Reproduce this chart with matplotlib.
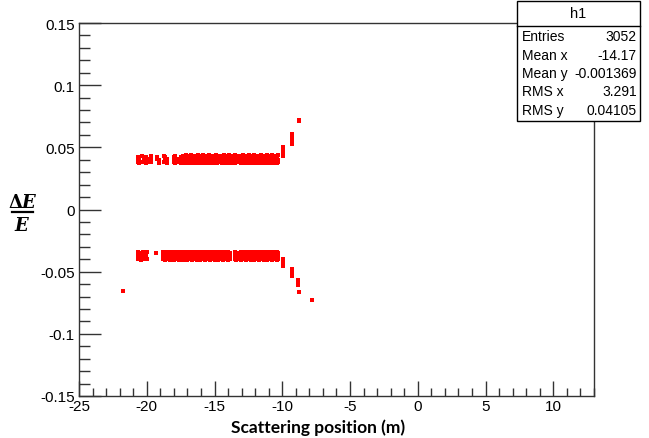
import matplotlib
matplotlib.use("Agg")
import matplotlib.pyplot as plt
from matplotlib.patches import Rectangle
from matplotlib.lines import Line2D
from matplotlib.ticker import MultipleLocator, FixedLocator

nan = float("nan")

# ---------------- data ----------------
# upper band (dE/E ~ +0.04): column positions and the dots seen in each column
upper_cols_x = [-20.66, -20.54, -20.36, -20.24, -20.06, -19.94, -19.76, -19.66, -19.24, -19.12,
                -18.76, -18.64, -18.52, -18.00, -17.88, -17.76, -17.64, -17.48,
                -17.32, -17.20, -17.08, -16.96, -16.84, -16.72, -16.60, -16.48, -16.36, -16.24,
                -16.12, -16.00, -15.88, -15.76, -15.64, -15.52, -15.40, -15.28, -15.16, -15.04,
                -14.92, -14.80, -14.68,
                -14.44, -14.32, -14.20, -14.08, -13.96, -13.84, -13.72, -13.60, -13.48,
                -13.16, -13.04, -12.92, -12.80, -12.68, -12.56, -12.44, -12.32, -12.20, -12.08,
                -11.96, -11.84, -11.72, -11.60, -11.48, -11.36, -11.24, -11.12, -11.00, -10.88,
                -10.76, -10.64, -10.52, -10.40, -10.28]
upper_y_top = [0.042, nan, 0.043, nan, 0.042, nan, 0.041, 0.043, 0.042, nan,
               0.043, 0.042, nan, 0.042, 0.043, nan, 0.041, 0.042,
               0.043, 0.042, 0.044, 0.043, 0.042, 0.044, 0.043, 0.042, 0.043, 0.044,
               0.042, 0.043, 0.044, 0.042, 0.043, 0.042, 0.044, 0.043, 0.042, 0.043,
               0.044, 0.042, 0.043,
               0.043, 0.044, 0.042, 0.043, 0.044, 0.042, 0.043, 0.042, 0.044,
               0.043, 0.042, 0.044, 0.043, 0.042, 0.043, 0.044, 0.042, 0.043, 0.044,
               0.042, 0.043, 0.042, 0.044, 0.043, 0.042, 0.043, 0.044, 0.042, 0.043,
               0.044, 0.042, 0.043, 0.042, 0.044]
upper_y_mid = [0.040, 0.041, nan, 0.040, 0.041, 0.040, nan, 0.040, 0.041, 0.040,
               nan, 0.040, 0.041, 0.040, nan, 0.041, 0.040, nan,
               0.040, 0.041, 0.0405, 0.040, 0.041, 0.0405, 0.040, 0.041, 0.040, 0.0405,
               0.041, 0.040, 0.0405, 0.041, 0.040, 0.041, 0.0405, 0.040, 0.041, 0.040,
               0.0405, 0.041, 0.040,
               0.041, 0.040, 0.0405, 0.041, 0.040, 0.041, 0.0405, 0.040, 0.041,
               0.040, 0.041, 0.0405, 0.040, 0.041, 0.040, 0.0405, 0.041, 0.040, 0.041,
               0.0405, 0.040, 0.041, 0.040, 0.0405, 0.041, 0.040, 0.041, 0.0405, 0.040,
               0.041, 0.040, 0.0405, 0.041, 0.040]
upper_y_low = [0.038, 0.037, 0.038, nan, 0.037, 0.038, nan, 0.038, nan, 0.037,
               0.038, nan, 0.037, 0.038, 0.037, nan, 0.038, 0.037,
               0.038, 0.037, 0.038, 0.0375, 0.037, 0.038, 0.0375, 0.038, 0.037, 0.038,
               0.0375, 0.037, 0.038, 0.037, 0.0375, 0.038, 0.037, 0.038, 0.0375, 0.037,
               0.038, 0.037, 0.038,
               0.037, 0.038, 0.0375, 0.037, 0.038, 0.037, 0.038, 0.0375, 0.037,
               0.038, 0.037, 0.0375, 0.038, 0.037, 0.038, 0.0375, 0.037, 0.038, 0.037,
               0.038, 0.0375, 0.037, 0.038, 0.037, 0.0375, 0.038, 0.037, 0.038, 0.0375,
               0.037, 0.038, 0.037, 0.0375, 0.038]
upper_tail_x = [-9.98, -9.95, -9.92, -9.96, -9.93, -9.30, -9.27, -9.29, -9.25, -8.76, -8.74]
upper_tail_y = [0.0460, 0.0440, 0.0480, 0.0500, 0.0432, 0.0530, 0.0560, 0.0580, 0.0605, 0.0710, 0.0722]

# lower band (dE/E ~ -0.037)
lower_cols_x = [-20.66, -20.54, -20.42, -20.30, -20.18, -20.06, -19.96, -19.30,
                -18.80, -18.68, -18.56, -18.44, -18.32, -18.20, -18.08, -17.96, -17.84, -17.72,
                -17.60, -17.48, -17.36, -17.24, -17.12, -17.00, -16.88, -16.76, -16.64, -16.52,
                -16.40, -16.28, -16.16, -16.04, -15.92, -15.80, -15.68, -15.56, -15.44, -15.32,
                -15.20, -15.08, -14.96, -14.84, -14.72, -14.60, -14.48, -14.36, -14.24, -14.12,
                -14.00, -13.88,
                -13.52, -13.40,
                -13.16, -13.04, -12.92, -12.80, -12.68, -12.56, -12.44, -12.32, -12.20, -12.08,
                -11.96, -11.84, -11.72, -11.60, -11.48, -11.36, -11.24, -11.12, -11.00, -10.88,
                -10.76, -10.64, -10.52, -10.40, -10.28]
lower_y_top = [-0.034, nan, -0.035, -0.034, nan, -0.035, -0.034, -0.035,
               -0.034, -0.035, -0.0345, -0.034, -0.035, -0.0345, -0.035, -0.034, -0.0345, -0.035,
               -0.034, -0.0345, -0.035, -0.034, -0.035, -0.0345, -0.034, -0.035, -0.0345, -0.034,
               -0.035, -0.034, -0.0345, -0.035, -0.034, -0.0345, -0.034, -0.035, -0.0345, -0.034,
               -0.035, -0.034, -0.0345, -0.035, -0.034, -0.035, -0.0345, -0.034, -0.035, -0.0345,
               -0.034, -0.035,
               -0.034, -0.035,
               -0.035, -0.034, -0.0345, -0.034, -0.035, -0.0345, -0.034, -0.035, -0.034, -0.0345,
               -0.035, -0.034, -0.035, -0.0345, -0.034, -0.035, -0.034, -0.0345, -0.035, -0.034,
               -0.0345, -0.035, -0.034, -0.0345, -0.035]
lower_y_mid = [-0.037, -0.038, nan, -0.0375, -0.037, -0.038, nan, nan,
               -0.0375, -0.037, -0.038, -0.0375, -0.037, -0.038, -0.037, -0.0375, -0.038, -0.037,
               -0.0375, -0.038, -0.037, -0.0375, -0.037, -0.038, -0.0375, -0.037, -0.038, -0.0375,
               -0.037, -0.038, -0.037, -0.0375, -0.038, -0.037, -0.0375, -0.037, -0.038, -0.0375,
               -0.037, -0.038, -0.0375, -0.037, -0.038, -0.037, -0.0375, -0.038, -0.037, -0.0375,
               -0.038, -0.037,
               -0.0375, -0.038,
               -0.037, -0.0375, -0.038, -0.037, -0.0375, -0.037, -0.038, -0.0375, -0.037, -0.038,
               -0.0375, -0.037, -0.038, -0.037, -0.0375, -0.038, -0.037, -0.0375, -0.037, -0.038,
               -0.0375, -0.037, -0.038, -0.0375, -0.037]
lower_y_low = [-0.040, -0.039, -0.041, nan, -0.040, nan, -0.0395, nan,
               -0.040, -0.041, -0.0395, -0.040, -0.041, -0.040, -0.0395, -0.041, -0.040, -0.0395,
               -0.041, -0.040, -0.041, -0.0395, -0.040, -0.041, -0.040, -0.0395, -0.041, -0.040,
               -0.0395, -0.041, -0.040, -0.041, -0.0395, -0.040, -0.041, -0.040, -0.0395, -0.041,
               -0.040, -0.0395, -0.041, -0.040, -0.041, -0.0395, -0.040, -0.041, -0.040, -0.0395,
               -0.041, -0.040,
               -0.0395, -0.041,
               -0.040, -0.041, -0.0395, -0.040, -0.041, -0.040, -0.0395, -0.041, -0.040, -0.041,
               -0.0395, -0.040, -0.041, -0.040, -0.0395, -0.041, -0.040, -0.041, -0.0395, -0.040,
               -0.041, -0.040, -0.0395, -0.041, -0.040]
lower_tail_x = [-21.75, -9.95, -9.93, -9.96, -9.94, -9.30, -9.27, -9.29, -9.26,
                -8.85, -8.83, -8.86, -8.78, -7.80]
lower_tail_y = [-0.0656, -0.0400, -0.0420, -0.0440, -0.0458, -0.0478, -0.0500, -0.0520, -0.0538,
                -0.0565, -0.0585, -0.0608, -0.0667, -0.0731]

x_ticks = [-25, -20, -15, -10, -5, 0, 5, 10]
x_tick_labels = ["-25", "-20", "-15", "-10", "-5", "0", "5", "10"]
y_ticks = [-0.15, -0.1, -0.05, 0, 0.05, 0.1, 0.15]
y_tick_labels = ["-0.15", "-0.1", "-0.05", "0", "0.05", "0.1", "0.15"]

stats_title = "h1"
stats_names = ["Entries", "Mean x", "Mean y", "RMS x", "RMS y"]
stats_values = ["3052", "-14.17", "-0.001369", "3.291", "0.04105"]

x_label = "Scattering position (m)"

# ---------------- figure ----------------
W, H = 649, 439
fig = plt.figure(figsize=(W / 100, H / 100), dpi=100)
L, R, T, B = 79, 594, 24, 397
ax = fig.add_axes([L / W, 1 - B / H, (R - L) / W, (B - T) / H])
ax.set_xlim(-25, 13)
ax.set_ylim(-0.15, 0.15)

dot = dict(s=5.5, marker="s", color="#ff0000", linewidths=0, antialiased=False)
for ys in (upper_y_top, upper_y_mid, upper_y_low):
    ax.scatter(upper_cols_x, ys, **dot)
for ys in (lower_y_top, lower_y_mid, lower_y_low):
    ax.scatter(lower_cols_x, ys, **dot)
ax.scatter(upper_tail_x, upper_tail_y, **dot)
ax.scatter(lower_tail_x, lower_tail_y, **dot)

font = "Liberation Sans"
ax.xaxis.set_major_locator(FixedLocator(x_ticks))
ax.set_xticklabels(x_tick_labels, fontfamily=font, fontsize=11)
ax.xaxis.set_minor_locator(MultipleLocator(1))
ax.yaxis.set_major_locator(FixedLocator(y_ticks))
ax.set_yticklabels(y_tick_labels, fontfamily=font, fontsize=11)
ax.yaxis.set_minor_locator(MultipleLocator(0.01))

ax.tick_params(axis="x", which="major", direction="in", length=11, width=1, pad=2, color="#333333")
ax.tick_params(axis="x", which="minor", direction="in", length=5.5, width=1, color="#333333")
ax.tick_params(axis="y", which="major", direction="in", length=15.5, width=1, pad=3, color="#333333")
ax.tick_params(axis="y", which="minor", direction="in", length=7.7, width=1, color="#333333")
ax.tick_params(top=False, right=False, which="both")
for sp in ax.spines.values():
    sp.set_linewidth(1)
    sp.set_color("#333333")

# x label
fig.text(318 / W, 1 - 428 / H, x_label, ha="center", va="center",
         fontfamily="Lato", fontweight="bold", fontsize=12.5)

# y label as a fraction
fig.text(22.5 / W, 1 - 203 / H, r"$\mathbf{\Delta}\mathbfit{E}$", ha="center", va="center", fontsize=13,
         math_fontfamily="dejavuserif")
fig.add_artist(Line2D([12 / W, 33 / W], [1 - 213 / H, 1 - 213 / H], transform=fig.transFigure,
                      color="black", lw=1.6))
fig.text(22 / W, 1 - 226 / H, r"$\mathbfit{E}$", ha="center", va="center", fontsize=13,
         math_fontfamily="dejavuserif")

# stats box
bx0, bx1, by0, by1, bsep = 517, 640, 2, 122, 27
fig.add_artist(Rectangle((bx0 / W, 1 - by1 / H), (bx1 - bx0) / W, (by1 - by0) / H,
                         transform=fig.transFigure, facecolor="white", edgecolor="black",
                         lw=1, zorder=10))
fig.add_artist(Line2D([bx0 / W, bx1 / W], [1 - bsep / H, 1 - bsep / H],
                      transform=fig.transFigure, color="black", lw=1, zorder=11))
fig.text((bx0 + bx1) / 2 / W, 1 - 14.5 / H, stats_title, ha="center", va="center",
         fontfamily=font, fontsize=10.5, zorder=12)
row_y = [37, 55.5, 74, 92.5, 111]
for yy, n, v in zip(row_y, stats_names, stats_values):
    fig.text(522 / W, 1 - yy / H, n, ha="left", va="center", fontfamily=font, fontsize=10, zorder=12)
    fig.text(637 / W, 1 - yy / H, v, ha="right", va="center", fontfamily=font, fontsize=10, zorder=12)

fig.savefig("out.png", dpi=100)
